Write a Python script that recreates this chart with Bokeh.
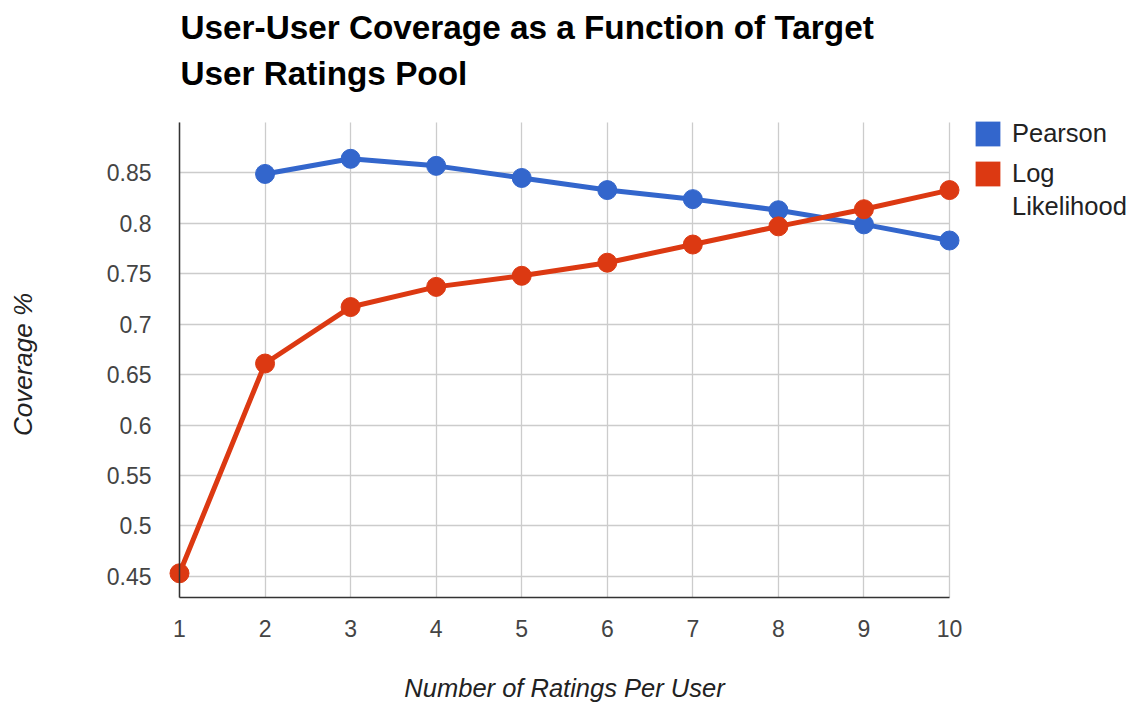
import math
from bokeh.plotting import figure
from bokeh.models import (ColumnDataSource, FixedTicker, CustomJSTickFormatter, Legend,
                          LegendItem, Label, Grid)
from bokeh.embed import file_html
from bokeh.resources import INLINE

# ---- data ----
ratings = [1, 2, 3, 4, 5, 6, 7, 8, 9, 10]
pearson_x = [2, 3, 4, 5, 6, 7, 8, 9, 10]
pearson = [0.849, 0.864, 0.857, 0.845, 0.833, 0.824, 0.813, 0.799, 0.783]
loglik = [0.453, 0.661, 0.717, 0.737, 0.748, 0.761, 0.779, 0.797, 0.814, 0.833]
y_ticks = [0.45, 0.5, 0.55, 0.6, 0.65, 0.7, 0.75, 0.8, 0.85]
title_lines = ["User-User Coverage as a Function of Target", "User Ratings Pool"]
series_names = ["Pearson", "Log", "Likelihood"]
x_title = "Number of Ratings Per User"
y_title = "Coverage %"

BLUE = "#3366CC"
RED = "#DC3912"
FONT = "Liberation Sans"

# ---- layout (pixels); the frame covers the whole canvas ----
W, H = 1135, 706
PLOT_L, PLOT_R, PLOT_T, PLOT_B = 179, 949, 122, 597   # chart area
X0, X1 = 1, 10
Y0, Y1 = 0.429, 0.9
px_x = (X1 - X0) / (PLOT_R - PLOT_L)
px_y = (Y1 - Y0) / (PLOT_B - PLOT_T)


def dx(px):
    return X0 + (px - PLOT_L) * px_x


def dy(py):
    return Y0 + (PLOT_B - py) * px_y


p = figure(width=W, height=H, output_backend="svg", toolbar_location=None,
           x_range=(dx(0), dx(W)), y_range=(dy(H), dy(0)),
           min_border=0, min_border_left=0, min_border_top=0, min_border_right=0,
           min_border_bottom=0)
try:
    p.title = None
except Exception:
    p.title.visible = False
p.outline_line_color = None
p.background_fill_color = "white"

# axes, pinned to the chart area
for ax in (p.xaxis[0], p.yaxis[0]):
    ax.major_tick_line_color = None
    ax.minor_tick_line_color = None
    ax.axis_line_color = "#333333"
    ax.axis_line_width = 1.5
    ax.major_label_text_font = FONT
    ax.major_label_text_font_size = "23px"
    ax.major_label_text_color = "#444444"

p.xaxis.fixed_location = Y0
p.yaxis.fixed_location = X0
p.xaxis.bounds = (X0, X1)
p.yaxis.bounds = (Y0, Y1)
p.xaxis.ticker = FixedTicker(ticks=ratings)
p.yaxis.ticker = FixedTicker(ticks=y_ticks)
p.yaxis.formatter = CustomJSTickFormatter(code="return String(parseFloat(tick.toFixed(2)));")
p.xaxis.major_label_standoff = 16
p.yaxis.major_label_standoff = 22

# grid limited to the chart area
p.xgrid.ticker = FixedTicker(ticks=ratings)
p.ygrid.ticker = FixedTicker(ticks=y_ticks)
if "cross_bounds" in Grid.properties():
    p.xgrid.cross_bounds = (Y0, Y1)
    p.ygrid.cross_bounds = (X0, X1)
    for g in (p.xgrid[0], p.ygrid[0]):
        g.grid_line_color = "#cccccc"
        g.grid_line_width = 1.3
else:
    p.xgrid.visible = False
    p.ygrid.visible = False
    p.segment(x0=ratings, x1=ratings, y0=[Y0] * len(ratings), y1=[Y1] * len(ratings),
              line_color="#cccccc", line_width=1.3)
    p.segment(x0=[X0] * len(y_ticks), x1=[X1] * len(y_ticks), y0=y_ticks, y1=y_ticks,
              line_color="#cccccc", line_width=1.3)

# series
src_p = ColumnDataSource(dict(x=pearson_x, y=pearson))
src_l = ColumnDataSource(dict(x=ratings, y=loglik))
p.line("x", "y", source=src_p, line_color=BLUE, line_width=5)
p.scatter("x", "y", source=src_p, size=19, fill_color=BLUE, line_color=BLUE)
p.line("x", "y", source=src_l, line_color=RED, line_width=5)
p.scatter("x", "y", source=src_l, size=19, fill_color=RED, line_color=RED)

# legend swatches: zero-size rects on the series points (only their legend glyph shows)
sw_p = p.rect("x", "y", width=0, height=0, source=src_p, fill_color=BLUE, line_alpha=0)
sw_l = p.rect("x", "y", width=0, height=0, source=src_l, fill_color=RED, line_alpha=0)
sw_n = p.rect("x", "y", width=0, height=0, source=src_l, fill_alpha=0, line_alpha=0)

leg_style = dict(orientation="vertical", border_line_color=None, background_fill_alpha=0,
                 padding=0, margin=0, spacing=9, glyph_width=31, glyph_height=31,
                 label_standoff=9, label_text_font=FONT, label_text_font_size="25.5px",
                 label_text_color="#222222", label_height=31)
legend = Legend(items=[LegendItem(label=series_names[0], renderers=[sw_p]),
                       LegendItem(label=series_names[1], renderers=[sw_l])],
                location=(972, H - 189), **leg_style)
legend2 = Legend(items=[LegendItem(label=series_names[2], renderers=[sw_n])],
                 location=(972, H - 222), **leg_style)
p.add_layout(legend, "center")
p.add_layout(legend2, "center")

# titles
for txt, base in zip(title_lines, [27, 73]):
    p.add_layout(Label(x=dx(180), y=dy(base), text=txt, text_align="left",
                       text_baseline="alphabetic", text_font=FONT, text_font_size="33.3px",
                       text_font_style="bold", text_color="#000000"))
p.add_layout(Label(x=(X0 + X1) / 2, y=dy(687), text=x_title, text_align="center",
                   text_baseline="alphabetic", text_font=FONT, text_font_size="25.5px",
                   text_font_style="italic", text_color="#222222"))
p.add_layout(Label(x=dx(22), y=dy(364), text=y_title, angle=math.pi / 2,
                   text_align="center", text_baseline="middle", text_font=FONT,
                   text_font_size="26px", text_font_style="italic", text_color="#222222"))

open("out.html", "w").write(file_html(p, INLINE))
